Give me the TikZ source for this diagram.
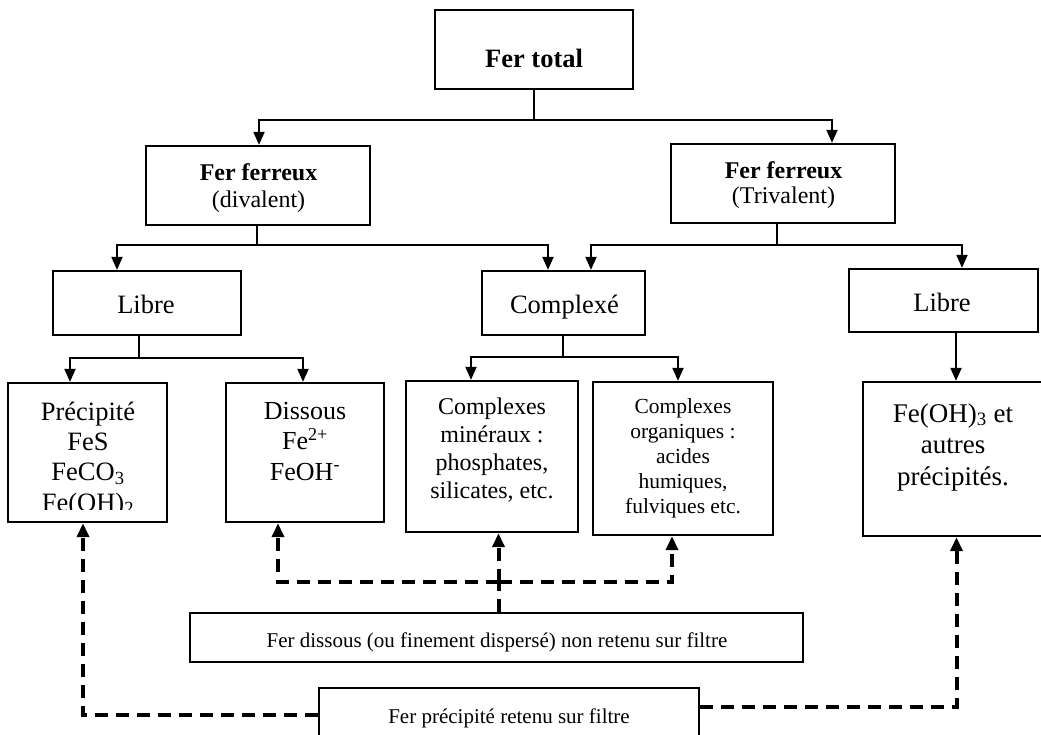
\documentclass[tikz,border=0pt]{standalone}
\usepackage{fontspec}
\setmainfont{Liberation Serif}
\usetikzlibrary{arrows.meta}
\newcommand\fsz[2]{\fontsize{#1}{#2}\selectfont}
\begin{document}
\begin{tikzpicture}[x=1pt,y=-1pt,
 box/.style={draw, line width=2.3pt, inner sep=0pt, rectangle},
 txt/.style={inner sep=0pt, align=center, anchor=base},
 link/.style={line width=2pt},
 conn/.style={line width=2pt, -{Triangle[length=13pt,width=11pt]}},
 dlink/.style={line width=4pt, dash pattern=on 13pt off 8pt},
 dconn/.style={line width=4pt, dash pattern=on 13pt off 8pt, -{Triangle[length=14pt,width=12pt]}},
]
\useasboundingbox (0,0) rectangle (1041,734);
\clip (0,0) rectangle (1041,734);

% boxes
\node[box, minimum width=198pt, minimum height=79pt] (total) at (534,49.5) {};
\node[box, minimum width=224pt, minimum height=79pt] (ffl) at (258,185.5) {};
\node[box, minimum width=224pt, minimum height=79pt] (ffr) at (783,183.5) {};
\node[box, minimum width=188pt, minimum height=64pt] (libl) at (147,303) {};
\node[box, minimum width=163pt, minimum height=64pt] (cplx) at (563.5,303) {};
\node[box, minimum width=189pt, minimum height=63pt] (libr) at (943.5,300.5) {};
\node[box, minimum width=159pt, minimum height=139pt] (prec) at (87.5,452.5) {};
\node[box, minimum width=158pt, minimum height=139pt] (diss) at (305,452.5) {};
\node[box, minimum width=172pt, minimum height=151pt] (cmin) at (492,456.5) {};
\node[box, minimum width=180pt, minimum height=153pt] (corg) at (683,458.5) {};
\node[box, minimum width=197pt, minimum height=154pt] (feoh) at (961.5,459) {};
\node[box, minimum width=613pt, minimum height=49pt] (fd) at (496.5,637.5) {};
\node[box, minimum width=380pt, minimum height=92pt] (fp) at (509,734) {};

% texts (multi-line nodes are anchored at the baseline of their last line)
\node[txt, font=\fsz{26.5}{30}\bfseries] (t0) at (534,67) {Fer total};
\node[txt, font=\fsz{24}{27}] (t1) at (258.5,207) {\textbf{Fer ferreux}\\(divalent)};
\node[txt, font=\fsz{24}{25.5}] (t2) at (783.5,203.5) {\textbf{Fer ferreux}\\(Trivalent)};
\node[txt, font=\fsz{26.5}{30}] (t3) at (146,313) {Libre};
\node[txt, font=\fsz{26.5}{30}] (t4) at (564.5,313) {Complexé};
\node[txt, font=\fsz{26.5}{30}] (t5) at (942,311) {Libre};
\begin{scope}
\clip (8,383) rectangle (167,509);
\node[txt, font=\fsz{26.5}{30.3}] (t6) at (88,511) {Précipité\\FeS\\FeCO\textsubscript{3}\\Fe(OH)\textsubscript{2}};
\end{scope}
\node[txt, font=\fsz{26}{30.5}] (t7) at (305,480) {Dissous\\Fe\textsuperscript{2+}\\FeOH\textsuperscript{-}};
\node[txt, font=\fsz{24}{27.7}] (t8) at (492,498) {Complexes\\minéraux :\\phosphates,\\silicates, etc.};
\node[txt, font=\fsz{21.5}{25}] (t9) at (683,513) {Complexes\\organiques :\\acides\\humiques,\\fulviques etc.};
\node[txt, font=\fsz{27}{31.5}] (t10) at (953,485) {Fe(OH)\textsubscript{3} et\\autres\\précipités.};
\node[txt, font=\fsz{21}{25}] (t11) at (497,647) {Fer dissous (ou finement dispersé) non retenu sur filtre};
\node[txt, font=\fsz{21}{25}] (t12) at (509,723) {Fer précipité retenu sur filtre};

% solid connectors
\coordinate (j1) at (534,120);
\draw[link] (total.south) -- (j1);
\draw[conn] (j1) -| ([xshift=1pt]ffl.north);
\draw[conn] (j1) -| ([xshift=49pt]ffr.north);

\coordinate (j2) at (257,245);
\draw[link] ([xshift=-1pt]ffl.south) -- (j2);
\draw[conn] (j2) -| ([xshift=-30pt]libl.north);
\draw[conn] (j2) -| ([xshift=-15.5pt]cplx.north);

\coordinate (j3) at (777,245);
\draw[link] ([xshift=-6pt]ffr.south) -- (j3);
\draw[conn] (j3) -| ([xshift=27.5pt]cplx.north);
\draw[conn] (j3) -| ([xshift=18.5pt]libr.north);

\coordinate (j4) at (139,358);
\draw[link] ([xshift=-8pt]libl.south) -- (j4);
\draw[conn] (j4) -| ([xshift=-17.5pt]prec.north);
\draw[conn] (j4) -| ([xshift=-2pt]diss.north);

\coordinate (j5) at (563,357);
\draw[link] ([xshift=-0.5pt]cplx.south) -- (j5);
\draw[conn] (j5) -| ([xshift=-21pt]cmin.north);
\draw[conn] (j5) -| ([xshift=-5pt]corg.north);

\draw[conn] ([xshift=12.5pt]libr.south) -- ([xshift=-5.5pt]feoh.north);

% dashed connectors
\coordinate (j6) at (498.5,582);
\draw[dlink] ([xshift=2pt]fd.north) -- (j6);
\draw[dconn] (j6) -| ([xshift=-27pt]diss.south);
\draw[dconn] (j6) -- (j6 |- cmin.south);
\draw[dconn] (j6) -| ([xshift=-11pt]corg.south);
\draw[dconn] ([yshift=-28pt]fp.north west) -| ([xshift=-4.5pt]prec.south);
\draw[dconn] ([yshift=-20pt]fp.north east) -| ([xshift=-5pt]feoh.south);
\end{tikzpicture}
\end{document}
